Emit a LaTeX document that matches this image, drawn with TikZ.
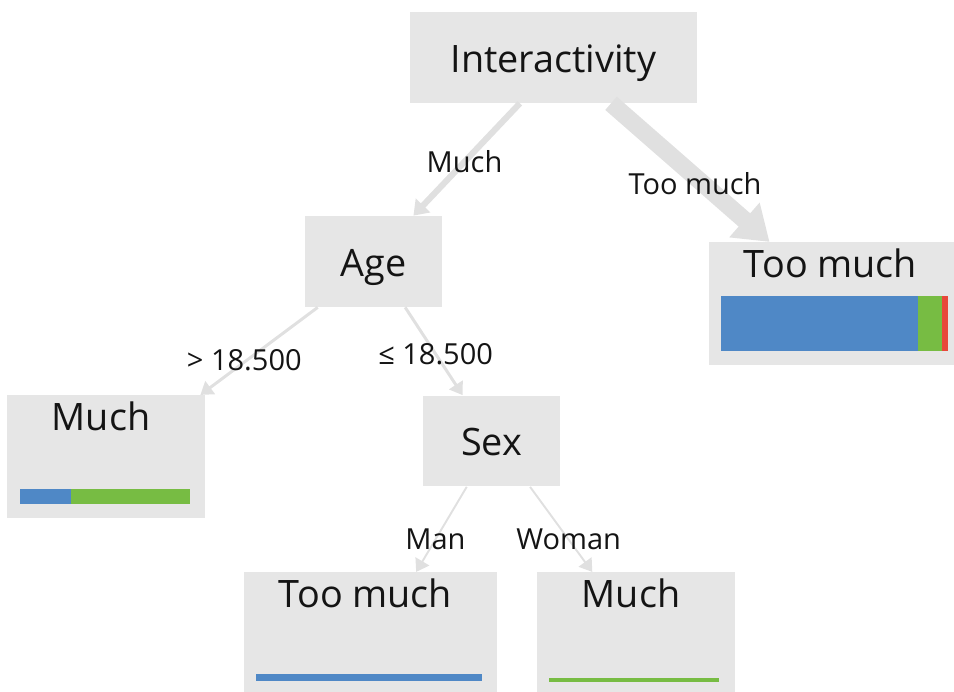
\documentclass[tikz,border=0pt]{standalone}
\usepackage{fontspec}
\setmainfont{Open Sans}
\usetikzlibrary{positioning,calc,arrows.meta}
\definecolor{boxgray}{RGB}{230, 230, 230}
\definecolor{edgegray}{RGB}{224, 224, 224}
\definecolor{tmblue}{RGB}{79, 136, 198}
\definecolor{mgreen}{RGB}{119, 188, 67}
\definecolor{lred}{RGB}{232, 72, 58}
\definecolor{txt}{RGB}{20, 20, 20}
\tikzstyle{split}=[fill=boxgray, inner sep=0pt, minimum height=1.82cm, text height=17pt, text depth=0pt, text=txt, font=\fontsize{21.5}{24}\selectfont]
\tikzstyle{leaf}=[fill=boxgray, inner sep=0pt, text height=19.8pt, text depth=49.9pt, text=txt, font=\fontsize{21.5}{24}\selectfont]
\tikzstyle{edge}=[draw=edgegray]
\tikzstyle{elabel}=[inner sep=0pt, text=txt, font=\fontsize{16.5}{19}\selectfont]

\begin{document}
\begin{tikzpicture}[x=0.02cm, y=-0.02cm]
    \useasboundingbox (0,0) rectangle (954,692);

    % split nodes
    \node[split, minimum width=5.74cm] (intr) at (553.5,57.5) {Interactivity};
    \node[split, minimum width=2.74cm] (age) at (373.5,261.5) {Age};
    \node[split, minimum width=2.74cm] (sex) at (491.5,441) {Sex};

    % leaves (text sits a little left of the middle)
    \node[leaf, minimum width=5.06cm] (tmR) at (835.5,303.5) {Too much\kern0.2cm};
    \node[leaf, minimum width=3.96cm] (muchL) at (106,456.5) {Much\kern0.2cm};
    \node[leaf, minimum width=5.06cm] (tmB) at (370.5,633.5) {Too much\kern0.2cm};
    \node[leaf, minimum width=3.96cm] (muchB) at (636,633.5) {Much\kern0.2cm};

    % class bars
    \fill[tmblue] ($(tmR.south west)+(12,-14)$) rectangle ($(tmR.south west)+(209,-69)$);
    \fill[mgreen] ($(tmR.south west)+(209,-14)$) rectangle ($(tmR.south west)+(233,-69)$);
    \fill[lred] ($(tmR.south west)+(233,-14)$) rectangle ($(tmR.south west)+(239,-69)$);
    \fill[tmblue] ($(muchL.south west)+(13,-14)$) rectangle ($(muchL.south west)+(64,-29)$);
    \fill[mgreen] ($(muchL.south west)+(64,-14)$) rectangle ($(muchL.south west)+(183,-29)$);
    \fill[tmblue] ($(tmB.south west)+(12,-14)$) rectangle ($(tmB.south west)+(238,-21)$);
    \fill[mgreen] ($(muchB.south west)+(12,-13)$) rectangle ($(muchB.south west)+(182,-17)$);

    % edges
    \draw[edge, line width=3.5pt, -{Triangle[length=8pt, width=11pt]}] ($(intr.south west)!0.383!(intr.south east)$) -- node[elabel, pos=0.52] {Much} ($(age.north west)!0.79!(age.north east)$);
    \draw[edge, line width=10pt, -{Triangle[length=19pt, width=25pt]}] ($(intr.south west)!0.70!(intr.south east)$) -- node[elabel, pos=0.58, xshift=-0.16cm] {Too much} ($(tmR.north west)!0.24!(tmR.north east)$);
    \draw[edge, line width=1.7pt, -{Triangle[length=7pt, width=9pt]}] ($(age.south west)!0.095!(age.south east)$) -- node[elabel, pos=0.6, xshift=-0.06cm] {> 18.500} ($(muchL.north west)!0.975!(muchL.north east)$);
    \draw[edge, line width=1.7pt, -{Triangle[length=7pt, width=9pt]}] ($(age.south west)!0.73!(age.south east)$) -- node[elabel, pos=0.53] {≤ 18.500} ($(sex.north west)!0.29!(sex.north east)$);
    \draw[edge, line width=1.1pt, -{Triangle[length=7pt, width=9pt]}] ($(sex.south west)!0.32!(sex.south east)$) -- node[elabel, pos=0.62] {Man} ($(tmB.north west)!0.68!(tmB.north east)$);
    \draw[edge, line width=1.1pt, -{Triangle[length=7pt, width=9pt]}] ($(sex.south west)!0.78!(sex.south east)$) -- node[elabel, pos=0.62] {Woman} ($(muchB.north west)!0.28!(muchB.north east)$);

\end{tikzpicture}
\end{document}
